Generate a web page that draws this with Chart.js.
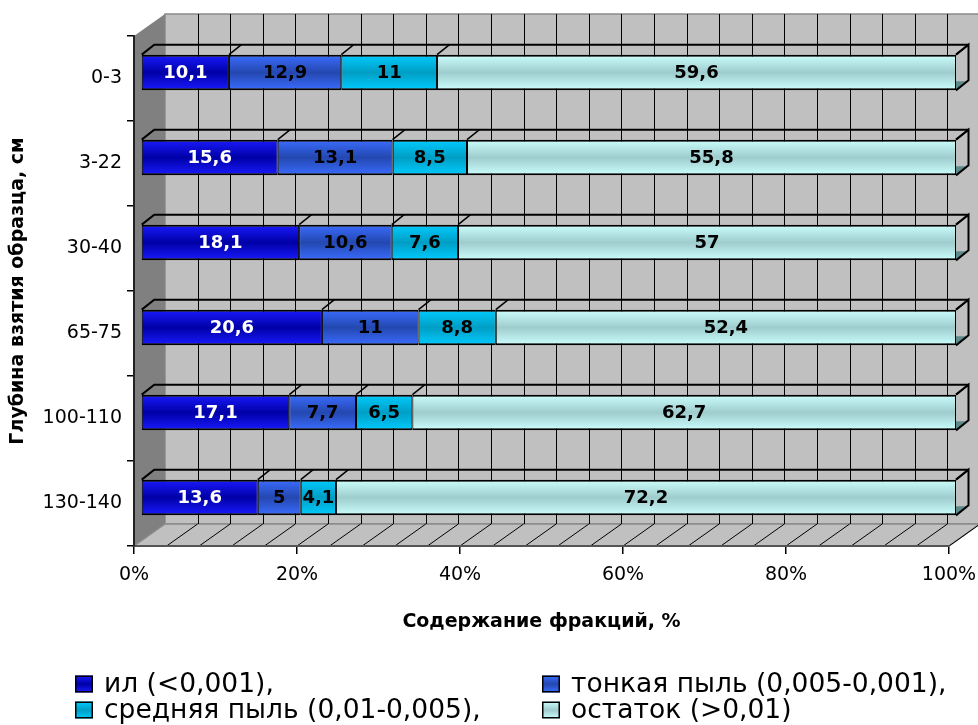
<!DOCTYPE html>
<html>
<head>
<meta charset="utf-8">
<script src="https://cdn.jsdelivr.net/npm/chart.js@4.4.0/dist/chart.umd.min.js"></script>
<style>
  html, body { margin: 0; padding: 0; background: #ffffff; }
  canvas { display: block; }
</style>
</head>
<body>
<canvas id="chart" width="978" height="725"></canvas>
<script>
// Sampling depths, cm
const depths = ['0-3', '3-22', '30-40', '65-75', '100-110', '130-140'];

// Fraction names
const fractionNames = ['ил (<0,001),', 'тонкая пыль (0,005-0,001),', 'средняя пыль (0,01-0,005),', 'остаток (>0,01)'];

// Fraction content for each depth
const clay       = [10.1, 15.6, 18.1, 20.6, 17.1, 13.6];
const fineSilt   = [12.9, 13.1, 10.6, 11,   7.7,  5];
const mediumSilt = [11,   8.5,  7.6,  8.8,  6.5,  4.1];
const remainder  = [59.6, 55.8, 57,   52.4, 62.7, 72.2];

// Axis ticks (%)
const percentTicks = [0, 20, 40, 60, 80, 100];
const minorStep = 4;

// ---- styling ----
const palettes = [
  { edge: '#1a1aff', mid: '#0000a6', label: '#ffffff' },
  { edge: '#3a6cff', mid: '#2448b0', label: '#000000' },
  { edge: '#00ccff', mid: '#009ec4', label: '#000000' },
  { edge: '#ccffff', mid: '#9fcccc', label: '#000000' }
];
const WALL_DX = 31, WALL_DY = 22;   // depth of the 3D box
const BAR_DX = 7,  BAR_DY = -6;     // bars sit slightly inside the box
const TOP_DX = 12.5, TOP_DY = 10;   // depth of each bar
const BAR_FRACTION = 0.42;

const series = [clay, fineSilt, mediumSilt, remainder];
const totals = depths.map((_, i) => series.reduce((s, arr) => s + arr[i], 0));
const shares = series.map(arr => arr.map((v, i) => v / totals[i] * 100));

function gradientFor(ctx, pal, y0, y1) {
  const g = ctx.createLinearGradient(0, y0, 0, y1);
  g.addColorStop(0, pal.edge);
  g.addColorStop(0.5, pal.mid);
  g.addColorStop(1, pal.edge);
  return g;
}

function barFill(pal) {
  return (c) => {
    const chart = c.chart;
    const ys = chart.scales.y;
    if (!chart.chartArea || !ys || c.dataIndex == null) return pal.mid;
    const band = (ys.bottom - ys.top) / depths.length;
    const half = band * BAR_FRACTION / 2;
    const cy = ys.getPixelForValue(c.dataIndex);
    return gradientFor(chart.ctx, pal, cy - half, cy + half);
  };
}

const fmt = v => String(v).replace('.', ',');

const box3d = {
  id: 'box3d',
  beforeDraw(chart) {
    const { ctx, chartArea: a, scales: { x } } = chart;
    const xs = v => x.getPixelForValue(v);
    const x0 = xs(0), x1 = xs(100), yT = a.top, yB = a.bottom;
    ctx.save();
    // back wall
    ctx.fillStyle = '#c0c0c0';
    ctx.fillRect(x0 + WALL_DX, yT - WALL_DY, x1 - x0, yB - yT);
    ctx.strokeStyle = '#8a8a8a';
    ctx.lineWidth = 1.5;
    ctx.strokeRect(x0 + WALL_DX, yT - WALL_DY, x1 - x0, yB - yT);
    // left wall
    ctx.beginPath();
    ctx.moveTo(x0, yT); ctx.lineTo(x0 + WALL_DX, yT - WALL_DY);
    ctx.lineTo(x0 + WALL_DX, yB - WALL_DY); ctx.lineTo(x0, yB); ctx.closePath();
    ctx.fillStyle = '#808080'; ctx.fill();
    // floor
    ctx.beginPath();
    ctx.moveTo(x0, yB); ctx.lineTo(x0 + WALL_DX, yB - WALL_DY);
    ctx.lineTo(x1 + WALL_DX, yB - WALL_DY); ctx.lineTo(x1, yB); ctx.closePath();
    ctx.fillStyle = '#c0c0c0'; ctx.fill();
    ctx.strokeStyle = '#8a8a8a'; ctx.lineWidth = 1.5; ctx.stroke();
    // gridlines on back wall and floor
    ctx.strokeStyle = '#000000';
    ctx.lineWidth = 1;
    for (let v = minorStep; v < 100; v += minorStep) {
      const px = Math.round(xs(v)) + 0.5;
      ctx.beginPath();
      ctx.moveTo(px + WALL_DX, yT - WALL_DY);
      ctx.lineTo(px + WALL_DX, yB - WALL_DY);
      ctx.stroke();
    }
    for (let v = minorStep; v <= 100; v += minorStep) {
      const px = xs(v);
      ctx.beginPath();
      ctx.moveTo(px, yB);
      ctx.lineTo(px + WALL_DX, yB - WALL_DY);
      ctx.stroke();
    }
    ctx.restore();
  },
  beforeDatasetsDraw(chart) {
    chart.ctx.save();
    chart.ctx.translate(BAR_DX, BAR_DY);
  },
  afterDatasetsDraw(chart) {
    const ctx = chart.ctx;
    const metas = chart.data.datasets.map((_, k) => chart.getDatasetMeta(k));
    depths.forEach((_, i) => {
      const first = metas[0].data[i];
      const last = metas[metas.length - 1].data[i];
      const top = first.y - first.height / 2;
      const bot = first.y + first.height / 2;
      const xL = first.base, xR = last.x;
      // right end face
      ctx.beginPath();
      ctx.moveTo(xR, top); ctx.lineTo(xR + TOP_DX, top - TOP_DY);
      ctx.lineTo(xR + TOP_DX, bot - TOP_DY); ctx.lineTo(xR, bot); ctx.closePath();
      ctx.fillStyle = '#c0c0c0'; ctx.fill();
      ctx.beginPath();
      ctx.moveTo(xR, bot - TOP_DY + 1); ctx.lineTo(xR + TOP_DX - 2, bot - TOP_DY + 1);
      ctx.lineTo(xR, bot); ctx.closePath();
      ctx.fillStyle = '#5f8a8a'; ctx.fill();
      ctx.strokeStyle = '#000000'; ctx.lineWidth = 2;
      ctx.beginPath();
      ctx.moveTo(xR, top); ctx.lineTo(xR + TOP_DX, top - TOP_DY);
      ctx.lineTo(xR + TOP_DX, bot - TOP_DY); ctx.lineTo(xR, bot);
      ctx.stroke();
      // top face outline
      ctx.beginPath();
      ctx.moveTo(xL, top); ctx.lineTo(xL + TOP_DX, top - TOP_DY);
      ctx.lineTo(xR + TOP_DX, top - TOP_DY);
      ctx.stroke();
      ctx.lineWidth = 1.5;
      metas.forEach(m => {
        const el = m.data[i];
        ctx.beginPath();
        ctx.moveTo(el.x, top); ctx.lineTo(el.x + TOP_DX, top - TOP_DY);
        ctx.stroke();
      });
      // value labels
      ctx.font = 'bold 18px "DejaVu Sans"';
      ctx.textAlign = 'center';
      ctx.textBaseline = 'middle';
      metas.forEach((m, k) => {
        const el = m.data[i];
        ctx.fillStyle = palettes[k].label;
        ctx.fillText(fmt(series[k][i]), (el.x + el.base) / 2, el.y + 1);
      });
    });
    ctx.restore();
  },
  afterDraw(chart) {
    const ctx = chart.ctx;
    const colX = [75, 542];
    const rowY = [684, 710];
    ctx.save();
    chart.data.datasets.forEach((ds, k) => {
      const bx = colX[k % 2], cy = rowY[Math.floor(k / 2)];
      const by = cy - 8.5;
      ctx.fillStyle = gradientFor(ctx, palettes[k], by, by + 17);
      ctx.fillRect(bx, by, 18, 17);
      ctx.strokeStyle = '#000000'; ctx.lineWidth = 1.5;
      ctx.strokeRect(bx + 0.75, by + 0.75, 16.5, 15.5);
      ctx.save();
      ctx.translate(bx + 29, cy);
      ctx.scale(1.02, 1);
      ctx.font = '26px "DejaVu Sans"';
      ctx.fillStyle = '#000000';
      ctx.textAlign = 'left';
      ctx.textBaseline = 'middle';
      ctx.fillText(ds.label, 0, 1);
      ctx.restore();
    });
    ctx.restore();
  }
};

new Chart(document.getElementById('chart'), {
  type: 'bar',
  data: {
    labels: depths,
    datasets: series.map((arr, k) => ({
      label: fractionNames[k],
      data: shares[k],
      backgroundColor: barFill(palettes[k]),
      borderColor: '#000000',
      borderWidth: { top: 2, bottom: 2, left: 1, right: 1 },
      borderSkipped: false,
      barPercentage: BAR_FRACTION,
      categoryPercentage: 1,
      clip: false
    }))
  },
  options: {
    indexAxis: 'y',
    responsive: false,
    animation: false,
    devicePixelRatio: 1,
    layout: { padding: { top: 36, right: 29, bottom: 89, left: 0 } },
    plugins: { legend: { display: false }, tooltip: { enabled: false } },
    scales: {
      x: {
        stacked: true,
        min: 0, max: 100,
        afterBuildTicks: s => { s.ticks = percentTicks.map(v => ({ value: v })); },
        afterFit: s => { s.height = 90; s.paddingLeft = 0; s.paddingRight = 0; },
        ticks: {
          color: '#000000',
          font: { family: 'DejaVu Sans', size: 19 },
          padding: 10,
          maxRotation: 0,
          callback: v => v + '%'
        },
        grid: { drawOnChartArea: false, tickLength: 8, color: '#000000', lineWidth: 1.5 },
        border: { color: '#555555', width: 2 },
        title: {
          display: true,
          text: 'Содержание фракций, %',
          color: '#000000',
          font: { family: 'DejaVu Sans', size: 19, weight: 'bold' },
          padding: { top: 0, bottom: 3 }
        }
      },
      y: {
        stacked: true,
        afterFit: s => { s.width = 134; s.paddingTop = 0; s.paddingBottom = 0; },
        ticks: {
          color: '#000000',
          font: { family: 'DejaVu Sans', size: 19 },
          padding: 5
        },
        grid: { drawOnChartArea: false, tickLength: 7, color: '#000000', lineWidth: 1.5, offset: true },
        border: { color: '#222222', width: 2 },
        title: {
          display: true,
          text: 'Глубина взятия образца, см',
          color: '#000000',
          font: { family: 'DejaVu Sans', size: 19, weight: 'bold' },
          padding: { top: 7, bottom: 0 }
        }
      }
    }
  },
  plugins: [box3d]
});
</script>
</body>
</html>
